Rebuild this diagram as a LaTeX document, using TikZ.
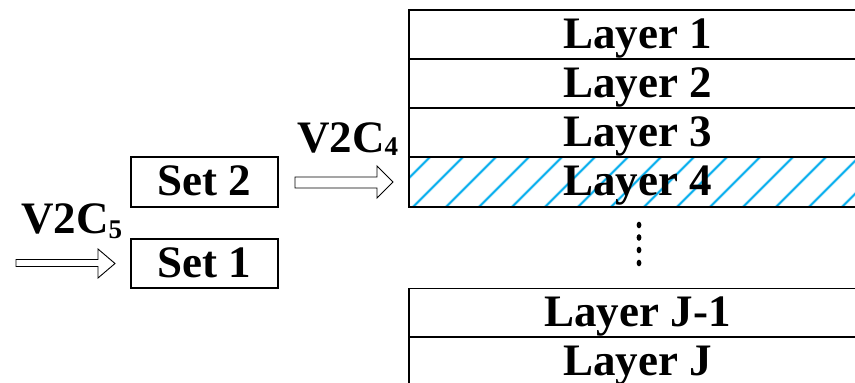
\documentclass[tikz,border=0pt]{standalone}
\usepackage{fontspec}
\setmainfont{Liberation Serif}
\begin{document}
\begin{tikzpicture}[x=1pt,y=-1pt,
  box/.style={draw,line width=1.4pt,inner sep=0pt,minimum height=49pt,
    text height=31pt,text depth=4pt,
    font=\fontsize{45}{50}\selectfont\bfseries},
  layerbox/.style={box,minimum width=457pt},
  setbox/.style={box,minimum width=147pt},
  blockarrow/.style={draw,line width=0.9pt,fill=white,line join=miter},
  lbl/.style={inner sep=0pt,anchor=base west,font=\fontsize{45}{50}\selectfont\bfseries},
  sub/.style={font=\fontsize{27}{27}\selectfont\bfseries},
  hatch/.style={line width=1.6pt,draw={rgb,255:red,0;green,172;blue,238}},
  hatchglow/.style={line width=3.4pt,draw={rgb,255:red,190;green,232;blue,249}}]
\useasboundingbox (0,0) rectangle (855,383);
\fill[white] (0,0) rectangle (855,383);
\begin{scope}
\clip (0,0) rectangle (855,383);

% hatched layer 4
\begin{scope}
  \clip (409,157) rectangle (866,207);
  \foreach \k in {-2,...,15} {
    \draw[hatchglow] ({413+33*\k},207) -- ({463+33*\k},157);
  }
  \foreach \k in {-2,...,15} {
    \draw[hatch] ({413+33*\k},207) -- ({463+33*\k},157);
  }
\end{scope}

% stack of layers
\node[layerbox] (l1) at (637.5,34.5) {Layer 1};
\node[layerbox] (l2) at (637.5,83.5) {Layer 2};
\node[layerbox] (l3) at (637.5,132.5) {Layer 3};
\node[layerbox,minimum height=50pt] (l4) at (637.5,182) {Layer 4};
\node[layerbox] (lj1) at (637.5,313) {Layer J-1};
\node[layerbox] (lj) at (637.5,361.5) {Layer J};

% vertical ellipsis
\foreach \yy in {225,237.5,250,263} {
  \fill (639,\yy) ellipse (2.4pt and 3.3pt);
}

% sets
\node[setbox,minimum height=50pt] (s2) at (204.5,182) {Set 2};
\node[setbox] (s1) at (204.5,263.5) {Set 1};

% block arrows
\draw[blockarrow] (16,259.5) -- (98,259.5) -- (98,249) -- (115,263.5)
  -- (98,278) -- (98,266.5) -- (16,266.5) -- cycle;
\draw[blockarrow] (295,177) -- (377,177) -- (377,166) -- (393,182)
  -- (377,198) -- (377,188) -- (295,188) -- cycle;

% labels
\node[lbl] (v5) at (21,233) {V2C\raisebox{-5pt}{\fontsize{27}{27}\selectfont\bfseries 5}};
\node[lbl] (v4) at (297,152) {V2C\raisebox{-3.5pt}{\fontsize{27}{27}\selectfont\bfseries 4}};
\end{scope}
\end{tikzpicture}
\end{document}
